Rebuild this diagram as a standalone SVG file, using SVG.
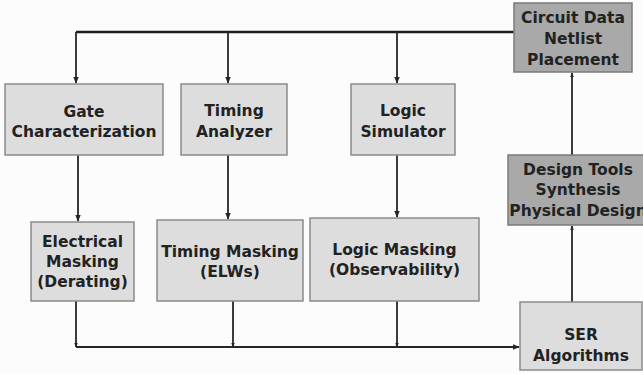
<svg xmlns="http://www.w3.org/2000/svg" width="643" height="374" viewBox="0 0 643 374">
  <defs>
    <style>
      .box { fill: #dddddd; stroke: #8a8a8a; stroke-width: 1.5; }
      .dark { fill: #a9a9a9; stroke: #7a7a7a; stroke-width: 1.5; }
      .lbl { font-family: "DejaVu Sans", Verdana, sans-serif; font-weight: bold; font-size: 15.5px; fill: #222222; text-anchor: middle; }
      .wire { fill: none; stroke: #262626; stroke-width: 1.8; }
      .bus { fill: none; stroke: #1e1e1e; stroke-width: 2.4; }
    </style>
    <marker id="arr" viewBox="0 0 10 10" refX="9" refY="5" markerWidth="4.5" markerHeight="4.5" orient="auto" markerUnits="userSpaceOnUse">
      <path d="M0,1 L10,5 L0,9 z" fill="#262626"/>
    </marker>
    <marker id="arrL" viewBox="0 0 10 10" refX="9" refY="5" markerWidth="7" markerHeight="7" orient="auto" markerUnits="userSpaceOnUse">
      <path d="M0,1 L10,5 L0,9 z" fill="#262626"/>
    </marker>
  </defs>

  <rect width="643" height="374" fill="#fcfcfc"/>

  <!-- connectors -->
  <g id="connectors">
    <!-- distribution bus from circuit data -->
    <path class="bus" d="M514,32 H76"/>
    <path class="wire" d="M76,32 V83" marker-end="url(#arrL)"/>
    <path class="wire" d="M228,32 V83" marker-end="url(#arrL)"/>
    <path class="wire" d="M397,32 V83" marker-end="url(#arrL)"/>
    <!-- tools into masking stages -->
    <path class="wire" d="M78,155 V221" marker-end="url(#arrL)"/>
    <path class="wire" d="M228,155 V219" marker-end="url(#arrL)"/>
    <path class="wire" d="M397,155 V217" marker-end="url(#arrL)"/>
    <!-- masking outputs to SER collection bus -->
    <path class="wire" d="M76,301 V347" marker-end="url(#arr)"/>
    <path class="wire" d="M233,301 V347" marker-end="url(#arr)"/>
    <path class="wire" d="M397,301 V347" marker-end="url(#arr)"/>
    <path class="wire" d="M76,347 H519" marker-end="url(#arrL)"/>
    <!-- feedback path -->
    <path class="wire" d="M572,302 V226" marker-end="url(#arr)"/>
    <path class="wire" d="M572,155 V73" marker-end="url(#arr)"/>
  </g>

  <g id="circuit-data">
    <rect class="dark" x="514" y="3" width="118" height="69"/>
    <text class="lbl" x="573" y="23">Circuit Data</text>
    <text class="lbl" x="573" y="44">Netlist</text>
    <text class="lbl" x="573" y="65">Placement</text>
  </g>

  <g id="gate-characterization">
    <rect class="box" x="5" y="84" width="158" height="71"/>
    <text class="lbl" x="84" y="117">Gate</text>
    <text class="lbl" x="84" y="137">Characterization</text>
  </g>

  <g id="timing-analyzer">
    <rect class="box" x="181" y="84" width="106" height="71"/>
    <text class="lbl" x="234" y="116">Timing</text>
    <text class="lbl" x="234" y="137">Analyzer</text>
  </g>

  <g id="logic-simulator">
    <rect class="box" x="351" y="84" width="104" height="71"/>
    <text class="lbl" x="403" y="116">Logic</text>
    <text class="lbl" x="403" y="137">Simulator</text>
  </g>

  <g id="design-tools">
    <rect class="dark" x="508" y="155" width="142" height="70"/>
    <text class="lbl" x="578" y="175">Design Tools</text>
    <text class="lbl" x="578" y="195">Synthesis</text>
    <text class="lbl" x="578" y="216">Physical Design</text>
  </g>

  <g id="electrical-masking">
    <rect class="box" x="31" y="222" width="103" height="79"/>
    <text class="lbl" x="82.5" y="247">Electrical</text>
    <text class="lbl" x="82.5" y="267">Masking</text>
    <text class="lbl" x="82.5" y="287">(Derating)</text>
  </g>

  <g id="timing-masking">
    <rect class="box" x="157" y="220" width="146" height="81"/>
    <text class="lbl" x="230" y="257">Timing Masking</text>
    <text class="lbl" x="230" y="277">(ELWs)</text>
  </g>

  <g id="logic-masking">
    <rect class="box" x="310" y="218" width="169" height="83"/>
    <text class="lbl" x="394.5" y="255">Logic Masking</text>
    <text class="lbl" x="394.5" y="275">(Observability)</text>
  </g>

  <g id="ser-algorithms">
    <rect class="box" x="520" y="302" width="122" height="68"/>
    <text class="lbl" x="581" y="340">SER</text>
    <text class="lbl" x="581" y="361">Algorithms</text>
  </g>
</svg>
